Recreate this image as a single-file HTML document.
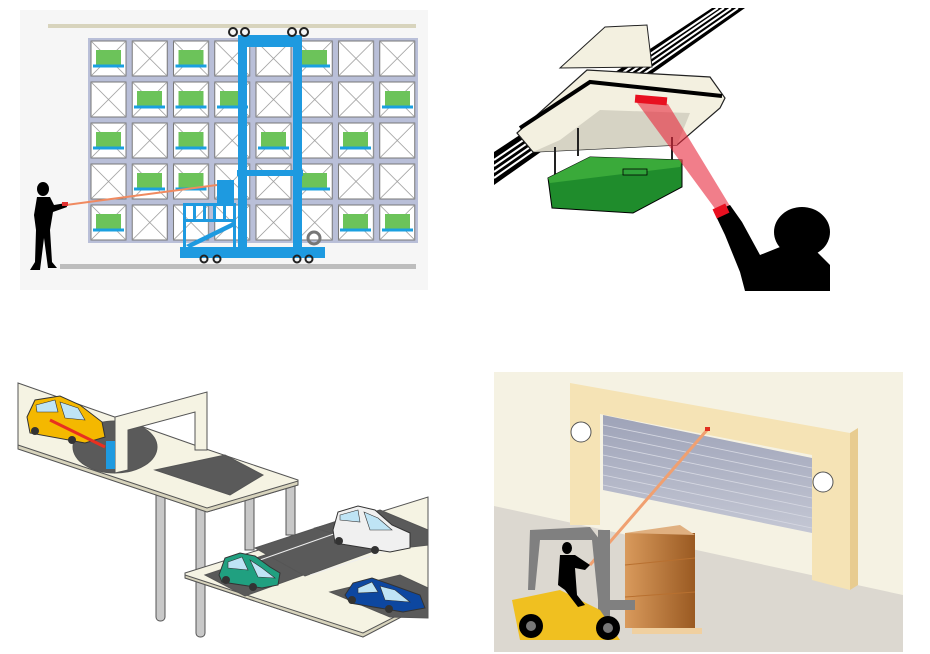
<!DOCTYPE html>
<html><head><meta charset="utf-8"><style>
html,body{margin:0;padding:0;background:#fff;width:930px;height:654px;overflow:hidden}
svg{display:block}
</style></head><body>
<svg width="930" height="654" viewBox="0 0 930 654" xmlns="http://www.w3.org/2000/svg">
<defs>
<pattern id="cell" x="88" y="38" width="41.25" height="41" patternUnits="userSpaceOnUse">
<rect x="0" y="0" width="41.25" height="41" fill="#b9bfd8"/>
<rect x="3" y="3" width="35" height="35" fill="#fff" stroke="#777" stroke-width="1"/>
<path d="M3 3L38 38M38 3L3 38" stroke="#999" stroke-width="0.8"/>
</pattern>
<linearGradient id="shut" x1="0" y1="0" x2="0" y2="1"><stop offset="0" stop-color="#9ea3b8"/><stop offset="1" stop-color="#c4c7d4"/></linearGradient>
<linearGradient id="box" x1="0" y1="0" x2="1" y2="0"><stop offset="0" stop-color="#d99a5c"/><stop offset="1" stop-color="#9a5a22"/></linearGradient>
<g id="gbox"><rect x="8" y="12" width="25" height="15" fill="#6cc35a"/><path d="M5 28h31" stroke="#1aa0e0" stroke-width="3"/></g>
</defs>

<!-- Panel 1 -->
<rect x="20" y="10" width="408" height="280" fill="#f6f6f6"/>
<rect x="48" y="24" width="368" height="4" fill="#d8d4bd"/>
<rect x="60" y="264" width="356" height="5" fill="#bdbdbd"/>
<rect x="88" y="38" width="330" height="205" fill="url(#cell)"/>
<g>
<use href="#gbox" x="88" y="38"/><use href="#gbox" x="170.5" y="38"/><use href="#gbox" x="294" y="38"/>
<use href="#gbox" x="129" y="79"/><use href="#gbox" x="170.5" y="79"/><use href="#gbox" x="212" y="79"/><use href="#gbox" x="377" y="79"/>
<use href="#gbox" x="88" y="120"/><use href="#gbox" x="170.5" y="120"/><use href="#gbox" x="253" y="120"/><use href="#gbox" x="335" y="120"/>
<use href="#gbox" x="129" y="161"/><use href="#gbox" x="170.5" y="161"/><use href="#gbox" x="294" y="161"/>
<use href="#gbox" x="88" y="202"/><use href="#gbox" x="335" y="202"/><use href="#gbox" x="377" y="202"/>
</g>
<g fill="#1e9ae0">
<rect x="238" y="35" width="64" height="12"/>
<rect x="238" y="35" width="9" height="215"/>
<rect x="293" y="35" width="9" height="215"/>
<rect x="237" y="170" width="66" height="6"/>
<rect x="180" y="247" width="145" height="11"/>
<rect x="217" y="180" width="17" height="23"/>
<rect x="183" y="203" width="53" height="3"/><rect x="183" y="219" width="53" height="3"/>
<rect x="183" y="203" width="3" height="44"/><rect x="193" y="203" width="3" height="18"/><rect x="203" y="203" width="3" height="18"/><rect x="213" y="203" width="3" height="18"/><rect x="223" y="203" width="3" height="18"/><rect x="233" y="203" width="3" height="44"/>
<path d="M186 245L233 222L235 226L190 248Z"/>
</g>
<g fill="none" stroke="#222" stroke-width="2">
<circle cx="233" cy="32" r="4"/><circle cx="245" cy="32" r="4"/><circle cx="292" cy="32" r="4"/><circle cx="304" cy="32" r="4"/>
<circle cx="204" cy="259" r="3.5"/><circle cx="217" cy="259" r="3.5"/><circle cx="297" cy="259" r="3.5"/><circle cx="309" cy="259" r="3.5"/>
</g>
<circle cx="314" cy="238" r="6" fill="none" stroke="#777" stroke-width="3"/>
<path d="M66 205L217 185" stroke="#f08a60" stroke-width="2"/>
<g fill="#000">
<ellipse cx="43" cy="189" rx="6" ry="7"/>
<path d="M37 197L50 197L54 205L66 203L67 207L53 212L50 230L52 262L57 268L48 268L44 238L40 270L30 270L35 262L36 230L34 215Z"/>
</g>
<rect x="62" y="202" width="6" height="4" fill="#e03030"/>

<!-- Panel 2 -->
<rect x="494" y="8" width="340" height="283" fill="#fff"/>
<path d="M494 152L712 8L745 8L494 185Z" fill="#000"/>
<path d="M494 160L718 8M494 166L724 8M494 172L731 8M494 178L738 8" stroke="#fff" stroke-width="2"/>
<path d="M560 68L605 27L647 25L652 67Z" fill="#f3f0e0" stroke="#222" stroke-width="1"/>
<path d="M517 133L587 70L710 77L725 98L720 108L677 145L533 152Z" fill="#f3f0e0" stroke="#222" stroke-width="1.2"/>
<path d="M520 128L590 82L722 96" stroke="#000" stroke-width="4" fill="none"/>
<path d="M560 140L600 110L690 113L677 145L533 152Z" fill="#d6d3c4"/>
<path d="M555 147v30M578 128v28M672 137v25" stroke="#222" stroke-width="2"/>
<path d="M548 178L590 157L682 160L682 187L633 213L552 208Z" fill="#1f8c2c" stroke="#000" stroke-width="1"/>
<path d="M548 178L590 157L682 160L680 167L550 183Z" fill="#3aaa3a"/>
<rect x="623" y="169" width="24" height="6" fill="#2fa23a" stroke="#000" stroke-width="0.8"/>
<path d="M635 100L668 104L730 206L716 210Z" fill="rgba(232,40,60,0.6)"/>
<rect x="635" y="96" width="32" height="8" fill="#e81020" transform="rotate(5 651 100)"/>
<g fill="#000">
<ellipse cx="802" cy="232" rx="28" ry="25"/>
<path d="M714 212L730 205L742 222L760 255L785 245L815 250L830 265L830 291L745 291L740 272L725 235Z"/>
</g>
<rect x="714" y="206" width="14" height="10" fill="#e81020" transform="rotate(-25 721 211)"/>

<!-- Panel 3 -->
<g stroke="#555" stroke-width="1">
<rect x="156" y="473" width="9" height="148" rx="4" fill="#c8c8c8"/>
<rect x="196" y="505" width="9" height="132" rx="4" fill="#c8c8c8"/>
<rect x="245" y="490" width="9" height="60" fill="#c8c8c8"/>
<rect x="286" y="480" width="9" height="55" fill="#c8c8c8"/>
<path d="M18 383L200 447L298 480L298 485L207 512L18 448Z" fill="#f5f3e3"/>
<path d="M18 445L207 508L298 481L298 485L207 512L18 449Z" fill="#d8d4bd"/>
<path d="M155 470L225 455L263 475L230 495Z" fill="#5a5a5a"/>
<ellipse cx="115" cy="447" rx="42" ry="26" fill="#5a5a5a"/>
<path d="M115 417L207 392L207 450L195 450L195 412L128 430L128 470L115 473Z" fill="#f5f3e3"/>
<path d="M185 573L428 497L428 603L363 637L185 578Z" fill="#f5f3e3"/>
<path d="M185 575L363 633L428 600L428 603L363 637L185 578Z" fill="#d8d4bd"/>
<path d="M205 575L310 540L345 560L245 596Z" fill="#5a5a5a"/>
<path d="M255 548L340 520L390 545L305 576Z" fill="#5a5a5a"/>
<path d="M315 528L380 510L428 530L428 545L385 550Z" fill="#5a5a5a"/>
<path d="M330 592L400 575L428 588L428 618L390 617Z" fill="#5a5a5a"/>
<path d="M260 560L345 530M310 575L395 548" stroke="#eee"/>
</g>
<rect x="106" y="441" width="9" height="28" fill="#1e9ae0"/>
<!-- cars -->
<g stroke="#333" stroke-width="1">
<path d="M27 417L35 400L60 396L80 405L102 422L105 437L85 443L30 433Z" fill="#f4b800"/>
<path d="M333 530L338 512L358 506L375 510L392 525L410 533L410 548L390 552L335 543Z" fill="#f0f0f0"/>
<path d="M219 575L225 558L240 553L255 556L270 567L280 573L278 585L262 588L222 582Z" fill="#20a080"/>
<path d="M345 595L353 583L372 578L392 585L420 595L425 608L403 612L350 603Z" fill="#0d47a0"/>
</g>
<g fill="#bfe4f5" stroke="#333" stroke-width="0.6">
<path d="M36 405L55 400L58 412L37 412Z"/><path d="M60 402L78 408L85 420L65 418Z"/>
<path d="M340 515L358 510L360 522L340 520Z"/><path d="M364 512L378 518L392 530L370 530Z"/>
<path d="M228 562L242 557L248 570L228 568Z"/><path d="M250 560L262 568L275 578L258 577Z"/>
<path d="M358 588L372 582L378 592L358 593Z"/><path d="M380 586L395 590L410 602L385 600Z"/>
</g>
<g fill="#333"><circle cx="35" cy="431" r="4"/><circle cx="72" cy="440" r="4"/><circle cx="339" cy="541" r="4"/><circle cx="375" cy="550" r="4"/><circle cx="226" cy="580" r="4"/><circle cx="253" cy="587" r="4"/><circle cx="352" cy="600" r="4"/><circle cx="389" cy="609" r="4"/></g>
<path d="M50 420L105 447" stroke="#e83020" stroke-width="3"/>

<!-- Panel 4 -->
<rect x="494" y="372" width="409" height="280" fill="#f5f2e3"/>
<path d="M494 506L903 595L903 652L494 652Z" fill="#dcd8d0"/>
<path d="M570 383L850 433L850 590L812 580L812 455L600 414L600 525L570 525Z" fill="#f5e3b5"/>
<path d="M850 433L858 428L858 585L850 590Z" fill="#e8cc90"/>
<path d="M603 415L812 458L812 533L603 490Z" fill="url(#shut)"/>
<g stroke="#d6d8e2" stroke-width="0.8"><path d="M603 425L812 468M603 435L812 478M603 445L812 488M603 455L812 498M603 465L812 508M603 475L812 518M603 485L812 528"/></g>
<circle cx="581" cy="432" r="10" fill="#fff" stroke="#555"/>
<circle cx="823" cy="482" r="10" fill="#fff" stroke="#555"/>
<path d="M707 430L590 565" stroke="#f0a070" stroke-width="3"/>
<rect x="705" y="427" width="5" height="4" fill="#e03020"/>
<rect x="625" y="533" width="70" height="95" fill="url(#box)"/>
<path d="M625 533L680 525L695 535" fill="#e0b080"/>
<path d="M625 565L695 558M625 597L695 592" stroke="#b87030" stroke-width="1"/>
<rect x="632" y="628" width="70" height="6" fill="#f0d0a0"/>
<g fill="#808080">
<path d="M530 530L590 527L600 540L606 600L598 600L592 540L540 540L535 590L528 590Z"/>
<rect x="598" y="530" width="12" height="110"/>
<rect x="610" y="600" width="25" height="10"/>
</g>
<path d="M512 600L560 590L600 610L620 640L520 640Z" fill="#f0c020"/>
<g fill="#000"><circle cx="531" cy="626" r="12"/><circle cx="608" cy="628" r="12"/>
<ellipse cx="567" cy="548" rx="5" ry="6"/><path d="M560 555L575 555L590 565L585 570L575 568L577 595L585 605L578 607L565 590L558 585Z"/></g>
<g fill="#777"><circle cx="531" cy="626" r="5"/><circle cx="608" cy="628" r="5"/></g>
</svg>
</body></html>
